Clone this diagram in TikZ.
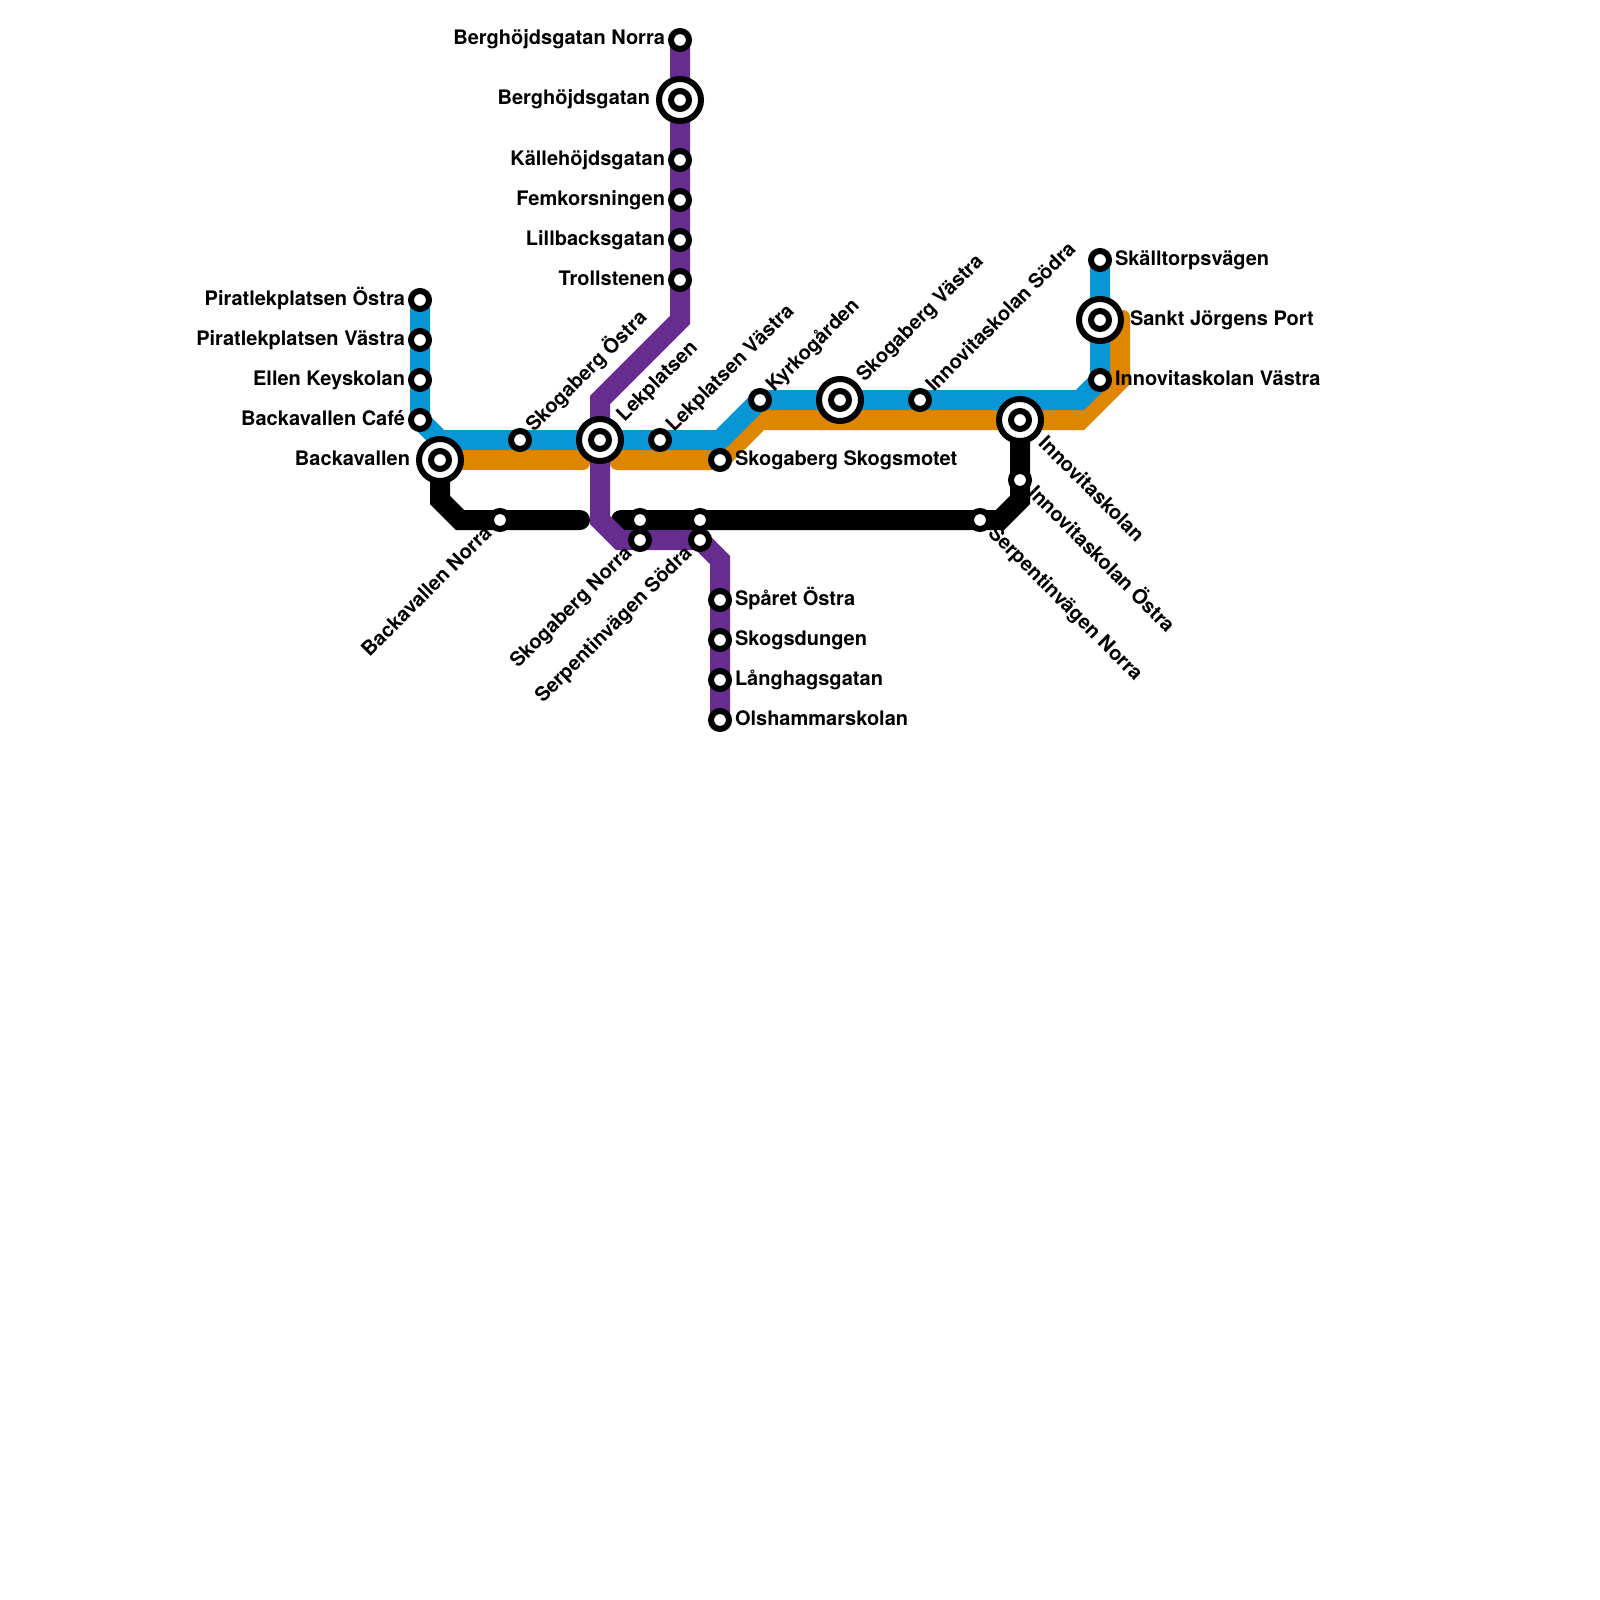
\documentclass[tikz,border=0pt]{standalone}
\usepackage{fontspec}
\setmainfont{TeX Gyre Heros}
\usetikzlibrary{backgrounds}
\definecolor{mblue}{HTML}{0896D7}
\definecolor{morange}{HTML}{DF8600}
\definecolor{mpurple}{HTML}{662C90}
\tikzset{
 stn/.style={circle,draw=black,fill=white,line width=6pt,minimum size=18pt,inner sep=0pt,outer sep=0pt},
 hub/.style={circle,draw=black,fill=white,line width=6pt,minimum size=42pt,inner sep=0pt,outer sep=0pt},
 lab/.style={font=\fontsize{20}{22}\selectfont\bfseries,inner sep=0pt,outer sep=0pt,text height=14.5pt,text depth=4.5pt,black},
 ln/.style={line width=20pt,line join=miter},
 blueln/.style={ln,draw=mblue},
 orangeln/.style={ln,draw=morange},
 purpleln/.style={ln,draw=mpurple},
 blackln/.style={ln,draw=black,line cap=round},
 orangeend/.style={line width=14pt,line cap=round,draw=morange},
}
\begin{document}
\begin{tikzpicture}[x=1pt,y=-1pt]
\useasboundingbox (0,0) rectangle (1600,1600);
% hubs
\node[hub] (h1) at (440,460) {};
\node[hub] (h2) at (600,440) {};
\node[hub] (h3) at (680,100) {};
\node[hub] (h4) at (840,400) {};
\node[hub] (h5) at (1020,420) {};
\node[hub] (h6) at (1100,320) {};
% stations
\node[stn] (pio) at (420,300) {};
\node[stn] (piv) at (420,340) {};
\node[stn] (ell) at (420,380) {};
\node[stn] (caf) at (420,420) {};
\node[stn] (bak) at (440,460) {};
\node[stn] (sko) at (520,440) {};
\node[stn] (lek) at (600,440) {};
\node[stn] (lev) at (660,440) {};
\node[stn] (sks) at (720,460) {};
\node[stn] (kyr) at (760,400) {};
\node[stn] (skv) at (840,400) {};
\node[stn] (ins) at (920,400) {};
\node[stn] (inn) at (1020,420) {};
\node[stn] (inv) at (1100,380) {};
\node[stn] (san) at (1100,320) {};
\node[stn] (ska) at (1100,260) {};
\node[stn] (bhn) at (680,40) {};
\node[stn] (bhg) at (680,100) {};
\node[stn] (kal) at (680,160) {};
\node[stn] (fem) at (680,200) {};
\node[stn] (lil) at (680,240) {};
\node[stn] (tro) at (680,280) {};
\node[stn] (spa) at (720,600) {};
\node[stn] (sdu) at (720,640) {};
\node[stn] (lan) at (720,680) {};
\node[stn] (ols) at (720,720) {};
\node[stn] (ban) at (500,520) {};
\node[stn] (skn) at (640,520) {};
\node[stn] (sep) at (700,520) {};
\node[stn] (sen) at (980,520) {};
\node[stn] (ino) at (1020,480) {};
\node[stn] (skn2) at (640,540) {};
\node[stn] (ses) at (700,540) {};
% left labels
\node[lab,anchor=east] at ([xshift=-15pt]pio.center) {Piratlekplatsen Östra};
\node[lab,anchor=east] at ([xshift=-15pt]piv.center) {Piratlekplatsen Västra};
\node[lab,anchor=east] at ([xshift=-15pt]ell.center) {Ellen Keyskolan};
\node[lab,anchor=east] at ([xshift=-15pt]caf.center) {Backavallen Café};
\node[lab,anchor=east] at ([xshift=-30pt]bak.center) {Backavallen};
\node[lab,anchor=east] at ([xshift=-15pt]bhn.center) {Berghöjdsgatan Norra};
\node[lab,anchor=east] at ([xshift=-30pt]bhg.center) {Berghöjdsgatan};
\node[lab,anchor=east] at ([xshift=-15pt]kal.center) {Källehöjdsgatan};
\node[lab,anchor=east] at ([xshift=-15pt]fem.center) {Femkorsningen};
\node[lab,anchor=east] at ([xshift=-15pt]lil.center) {Lillbacksgatan};
\node[lab,anchor=east] at ([xshift=-15pt]tro.center) {Trollstenen};
% right labels
\node[lab,anchor=west] at ([xshift=15pt]ska.center) {Skälltorpsvägen};
\node[lab,anchor=west] at ([xshift=30pt]san.center) {Sankt Jörgens Port};
\node[lab,anchor=west] at ([xshift=15pt]inv.center) {Innovitaskolan Västra};
\node[lab,anchor=west] at ([xshift=15pt]sks.center) {Skogaberg Skogsmotet};
\node[lab,anchor=west] at ([xshift=15pt]spa.center) {Spåret Östra};
\node[lab,anchor=west] at ([xshift=15pt]sdu.center) {Skogsdungen};
\node[lab,anchor=west] at ([xshift=15pt]lan.center) {Långhagsgatan};
\node[lab,anchor=west] at ([xshift=15pt]ols.center) {Olshammarskolan};
% up-right labels
\node[lab,anchor=west,rotate=45] at ([xshift=10.6pt,yshift=10.6pt]sko.center) {Skogaberg Östra};
\node[lab,anchor=west,rotate=45] at ([xshift=21pt,yshift=21pt]lek.center) {Lekplatsen};
\node[lab,anchor=west,rotate=45] at ([xshift=10.6pt,yshift=10.6pt]lev.center) {Lekplatsen Västra};
\node[lab,anchor=west,rotate=45] at ([xshift=10.6pt,yshift=10.6pt]kyr.center) {Kyrkogården};
\node[lab,anchor=west,rotate=45] at ([xshift=21pt,yshift=21pt]skv.center) {Skogaberg Västra};
\node[lab,anchor=west,rotate=45] at ([xshift=10.6pt,yshift=10.6pt]ins.center) {Innovitaskolan Södra};
% down-left labels
\node[lab,anchor=east,rotate=45] at ([xshift=-10.6pt,yshift=-10.6pt]ban.center) {Backavallen Norra};
\node[lab,anchor=east,rotate=45] at ([xshift=-10.6pt,yshift=-10.6pt]skn2.center) {Skogaberg Norra};
\node[lab,anchor=east,rotate=45] at ([xshift=-10.6pt,yshift=-10.6pt]ses.center) {Serpentinvägen Södra};
% down-right labels
\node[lab,anchor=west,rotate=-45] at ([xshift=21pt,yshift=-21pt]inn.center) {Innovitaskolan};
\node[lab,anchor=west,rotate=-45] at ([xshift=10.6pt,yshift=-10.6pt]ino.center) {Innovitaskolan Östra};
\node[lab,anchor=west,rotate=-45] at ([xshift=10.6pt,yshift=-10.6pt]sen.center) {Serpentinvägen Norra};
% bends
\coordinate (bl1) at (440,440);
\coordinate (bl2) at (720,440);
\coordinate (bl3) at (760,400);
\coordinate (bl4) at (1080,400);
\coordinate (bl5) at (1100,380);
\coordinate (or1) at (583,460);
\coordinate (or1a) at (583,457);
\coordinate (or1b) at (583,463);
\coordinate (or2) at (617,460);
\coordinate (or2a) at (617,457);
\coordinate (or2b) at (617,463);
\coordinate (or3) at (760,420);
\coordinate (or4) at (1080,420);
\coordinate (or5) at (1120,380);
\coordinate (or6) at (1120,317);
\coordinate (or6a) at (1117,317);
\coordinate (or6b) at (1123,317);
\coordinate (pu1) at (680,320);
\coordinate (pu2) at (600,400);
\coordinate (pu3) at (600,520);
\coordinate (pu4) at (620,540);
\coordinate (pu5) at (720,560);
\coordinate (bk1) at (440,500);
\coordinate (bk2) at (460,520);
\coordinate (bk3) at (580,520);
\coordinate (bk4) at (621,520);
\coordinate (bk5) at (1000,520);
\coordinate (bk6) at (1020,500);
\begin{pgfonlayer}{background}
\fill[white] (0,0) rectangle (1600,1600);
% orange
\draw[orangeln] (bak.center) -- (or1);
\draw[orangeend] (or1a) -- (or1b);
\draw[orangeln] (or2) -- (sks.center) -- (or3) -- (or4) -- (or5) -- (or6);
\draw[orangeend] (or2a) -- (or2b);
\draw[orangeend] (or6a) -- (or6b);
% blue
\draw[blueln] (pio.center) -- (caf.center) -- (bl1) -- (bl2) -- (bl3) -- (bl4) -- (bl5) -- (ska.center);
% black
\draw[blackln] (bak.center) -- (bk1) -- (bk2) -- (bk3);
\draw[blackln] (bk4) -- (bk5) -- (bk6) -- (inn.center);
% purple
\draw[purpleln] (bhn.center) -- (pu1) -- (pu2) -- (pu3) -- (pu4) -- (ses.center) -- (pu5) -- (ols.center);
\end{pgfonlayer}
\end{tikzpicture}
\end{document}
